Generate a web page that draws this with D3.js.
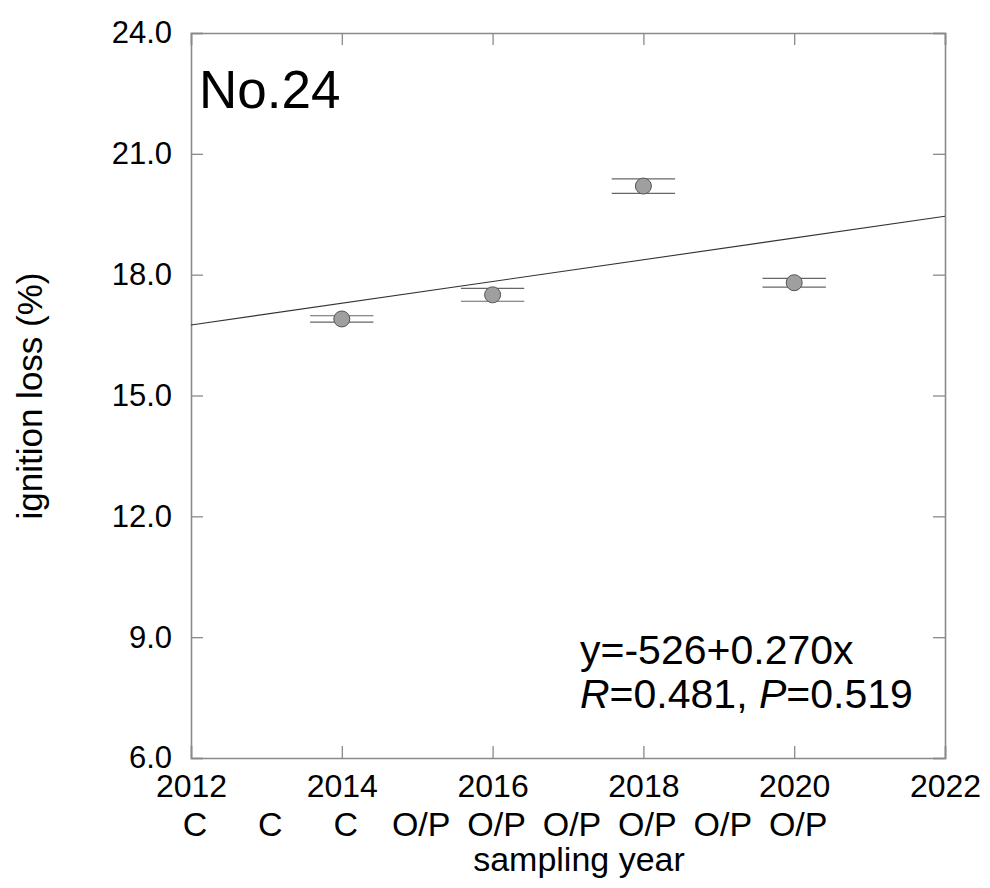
<!DOCTYPE html>
<html>
<head>
<meta charset="utf-8">
<script src="https://cdn.jsdelivr.net/npm/d3@7/dist/d3.min.js"></script>
<style>
  html, body { margin: 0; padding: 0; background: #fff; }
  svg text { font-family: "Liberation Sans", Arial, sans-serif; fill: #000; }
</style>
</head>
<body>
<svg id="chart" width="990" height="888"></svg>
<script>
// data
const years   = [2014, 2016, 2018, 2020];
const ignLoss = [16.9, 17.5, 20.2, 17.8];   // mean ignition loss (%)
const ignErr  = [0.08, 0.16, 0.18, 0.11];   // half-width of the error bar
const xTicks  = [2012, 2014, 2016, 2018, 2020, 2022];
const yTicks  = [6, 9, 12, 15, 18, 21, 24];
const treatYears = [2012, 2013, 2014, 2015, 2016, 2017, 2018, 2019, 2020];
const treatments = ["C", "C", "C", "O/P", "O/P", "O/P", "O/P", "O/P", "O/P"];
const siteName = "No.24";
const eqText   = "y=-526+0.270x";

const svg = d3.select("#chart");
const L = 191, R = 945, T = 33, B = 758;

const x = d3.scaleLinear().domain([2012, 2022]).range([L, R]);
const y = d3.scaleLinear().domain([6, 24]).range([B, T]);

const grey = "#8a8a8a";
const TK = 12;   // tick length, pointing inward

// ── axes (four sides, ticks inside) ─────────────────────────
const gx = svg.append("g").attr("transform", `translate(0,${B})`)
  .call(d3.axisBottom(x).tickValues(xTicks).tickSize(-TK).tickFormat(d3.format("d")));
gx.selectAll("text").attr("y", 16).attr("dy", "0.71em").style("font-size", "32px");

svg.append("g").attr("transform", `translate(0,${T})`)
  .call(d3.axisTop(x).tickValues(xTicks).tickSize(-TK).tickFormat(""));

const gy = svg.append("g").attr("transform", `translate(${L},0)`)
  .call(d3.axisLeft(y).tickValues(yTicks).tickSize(-TK).tickFormat(d3.format(".1f")));
gy.selectAll("text").attr("x", -19).style("font-size", "31px");

svg.append("g").attr("transform", `translate(${R},0)`)
  .call(d3.axisRight(y).tickValues(yTicks).tickSize(-TK).tickFormat(""));

svg.selectAll(".domain").attr("stroke", grey).attr("stroke-width", 1.6);
svg.selectAll(".tick line").attr("stroke", grey).attr("stroke-width", 1.3);
svg.selectAll(".tick text").attr("fill", "#000").style("font-family", "Liberation Sans, Arial, sans-serif");

// treatment row under the year labels
svg.append("g").selectAll("text")
  .data(treatments)
  .join("text")
  .attr("x", (d, i) => x(treatYears[i]) + 4)
  .attr("y", 836)
  .attr("text-anchor", "middle")
  .style("font-size", "34px")
  .text(d => d);

// ── regression line (least squares on the points) ───────────
const mx = d3.mean(years), my = d3.mean(ignLoss);
const sxy = d3.sum(years, (v, i) => (v - mx) * (ignLoss[i] - my));
const sxx = d3.sum(years, v => (v - mx) ** 2);
const slope = sxy / sxx, icpt = my - slope * mx;

svg.append("line")
  .attr("x1", x(2012)).attr("y1", y(icpt + slope * 2012))
  .attr("x2", x(2022)).attr("y2", y(icpt + slope * 2022))
  .attr("stroke", "#333").attr("stroke-width", 1.1);

// ── error caps and points ───────────────────────────────────
const pts = years.map((yr, i) => ({ yr, v: ignLoss[i], e: ignErr[i] }));
const capW = 0.42;

const caps = svg.append("g");
pts.forEach(d => {
  [d.v + d.e, d.v - d.e].forEach(cv => {
    caps.append("line")
      .attr("x1", x(d.yr - capW)).attr("x2", x(d.yr + capW))
      .attr("y1", y(cv)).attr("y2", y(cv))
      .attr("stroke", "#666").attr("stroke-width", 1.2);
  });
});

svg.append("g").selectAll("circle")
  .data(pts)
  .join("circle")
  .attr("cx", d => x(d.yr))
  .attr("cy", d => y(d.v))
  .attr("r", 8)
  .attr("fill", "#9f9f9f")
  .attr("stroke", "#555")
  .attr("stroke-width", 1);

// ── texts ───────────────────────────────────────────────────
svg.append("text").attr("x", 199).attr("y", 108)
  .style("font-size", "53px").text(siteName);

svg.append("text").attr("x", 580).attr("y", 664)
  .style("font-size", "41px").text(eqText);

const st = svg.append("text").attr("x", 580).attr("y", 708).style("font-size", "41px");
st.append("tspan").style("font-style", "italic").text("R");
st.append("tspan").text("=0.481, ");
st.append("tspan").style("font-style", "italic").text("P");
st.append("tspan").text("=0.519");

svg.append("text").attr("x", 579).attr("y", 871).attr("text-anchor", "middle")
  .style("font-size", "34px").text("sampling year");

svg.append("text")
  .attr("transform", "translate(42,396) rotate(-90)")
  .attr("text-anchor", "middle")
  .style("font-size", "35px").text("ignition loss (%)");
</script>
</body>
</html>
